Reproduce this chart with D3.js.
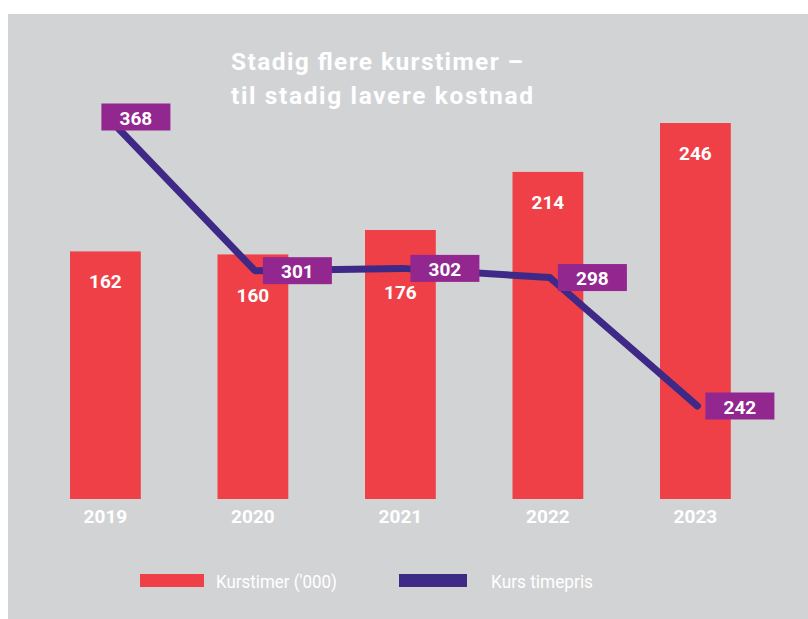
<!DOCTYPE html>
<html>
<head>
<meta charset="utf-8">
<script src="https://cdn.jsdelivr.net/npm/d3@7"></script>
<style>
  html, body { margin: 0; padding: 0; background: #ffffff; }
  svg { display: block; }
  text { font-family: Roboto, "Noto Sans", sans-serif; }
</style>
</head>
<body>
<script>
// ---- data ----
const years = ["2019", "2020", "2021", "2022", "2023"];
const kurstimer = [162, 160, 176, 214, 246];      // '000 hours (bars)
const timepris = [368, 301, 302, 298, 242];        // price per hour (line)
const titleLines = ["Stadig flere kurstimer \u2013", "til stadig lavere kostnad"];
const legendLabels = ["Kurstimer ('000)", "Kurs timepris"];

// ---- styles ----
const W = 808, H = 619;
const bg = "#d2d3d5", red = "#ef4048", lineCol = "#3f2987", boxCol = "#92278f";

const svg = d3.select("body").append("svg").attr("width", W).attr("height", H);

svg.append("rect").attr("x", 8).attr("y", 14).attr("width", W - 8).attr("height", H - 14).attr("fill", bg);

const x = d3.scaleBand().domain(years).range([31.65, 769.15]).paddingInner(0.52).paddingOuter(0.26);
const yBar = d3.scaleLinear().domain([0, 246]).range([499, 123]);
const yLine = d3.scaleLinear().domain([242, 368]).range([406, 117]);
const cx = d => x(d) + x.bandwidth() / 2;

// title
const titleWidths = [292, 302];
titleLines.forEach((t, i) => {
  svg.append("text")
    .attr("x", 231).attr("y", 70 + i * 34)
    .attr("fill", "#ffffff").attr("font-weight", 700).attr("font-size", 24.5)
    .attr("textLength", titleWidths[i]).attr("lengthAdjust", "spacing")
    .text(t);
});

// bars
svg.append("g").selectAll("rect").data(years).join("rect")
  .attr("x", d => x(d))
  .attr("y", (d, i) => yBar(kurstimer[i]))
  .attr("width", x.bandwidth())
  .attr("height", (d, i) => yBar(0) - yBar(kurstimer[i]))
  .attr("fill", red);

// bar labels (pushed below the line when they would overlap it)
svg.append("g").selectAll("text").data(years).join("text")
  .attr("x", d => cx(d))
  .attr("y", (d, i) => {
    const top = yBar(kurstimer[i]);
    let mid = top + 30;
    const ly = yLine(timepris[i]);
    if (Math.abs(mid - ly) < 20) mid = ly + 24;
    return mid + 7;
  })
  .attr("text-anchor", "middle")
  .attr("fill", "#ffffff").attr("font-weight", 700).attr("font-size", 19)
  .text((d, i) => kurstimer[i]);

// x axis
const ax = svg.append("g").attr("transform", "translate(0,507)")
  .call(d3.axisBottom(x).tickSize(0).tickPadding(0));
ax.select(".domain").remove();
ax.selectAll("text")
  .attr("dy", "16")
  .attr("fill", "#ffffff")
  .attr("font-weight", 700)
  .attr("font-size", 19)
  .attr("font-family", "Roboto, sans-serif");

// line
const line = d3.line().x(d => cx(d) + 2).y((d, i) => yLine(timepris[i]));
svg.append("path").datum(years)
  .attr("d", line)
  .attr("fill", "none")
  .attr("stroke", lineCol)
  .attr("stroke-width", 7)
  .attr("stroke-linejoin", "round")
  .attr("stroke-linecap", "round");

// line labels
const bw = 69, bh = 27;
const lg = svg.append("g").selectAll("g").data(years).join("g")
  .attr("transform", (d, i) => `translate(${cx(d) + (i === 0 ? -4 : 10)},${yLine(timepris[i]) - bh / 2})`);
lg.append("rect").attr("width", bw).attr("height", bh).attr("fill", boxCol);
lg.append("text")
  .attr("x", bw / 2).attr("y", 21)
  .attr("text-anchor", "middle")
  .attr("fill", "#ffffff").attr("font-weight", 700).attr("font-size", 19)
  .text((d, i) => timepris[i]);

// legend
const legendCols = [red, lineCol];
const legendX = [140, 399];
const leg = svg.append("g").selectAll("g").data(legendLabels).join("g")
  .attr("transform", (d, i) => `translate(${legendX[i]},574)`);
leg.append("rect").attr("width", (d, i) => i === 0 ? 64 : 68).attr("height", 13).attr("fill", (d, i) => legendCols[i]);
leg.append("text")
  .attr("x", (d, i) => i === 0 ? 76 : 92)
  .attr("y", 14)
  .attr("fill", "#ffffff").attr("font-size", 19)
  .attr("textLength", (d, i) => i === 0 ? 121 : 102).attr("lengthAdjust", "spacingAndGlyphs")
  .text(d => d);
</script>
</body>
</html>
